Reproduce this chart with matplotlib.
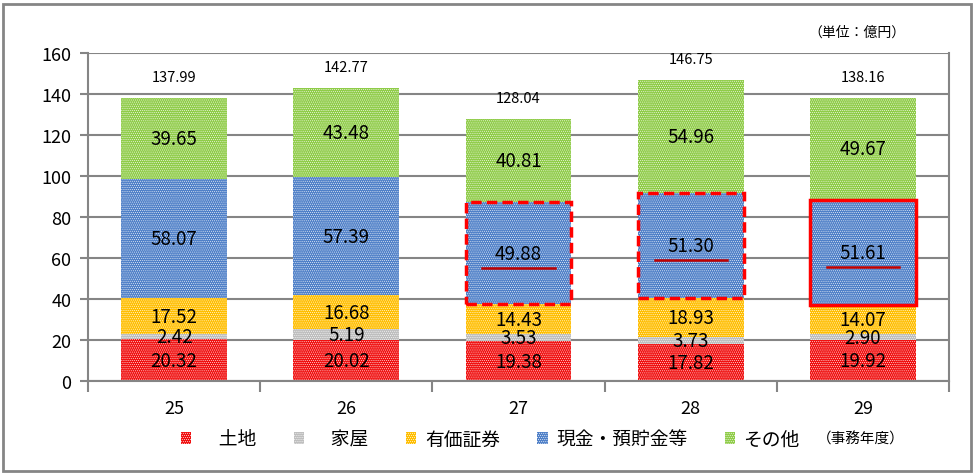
import matplotlib
matplotlib.use("Agg")
import matplotlib.pyplot as plt
from matplotlib.patches import Rectangle
import numpy as np

plt.rcParams['font.family'] = ['Noto Sans CJK JP', 'DejaVu Sans']
plt.rcParams['hatch.linewidth'] = 0.35

years = ['25', '26', '27', '28', '29']
land = [20.32, 20.02, 19.38, 17.82, 19.92]
house = [2.42, 5.19, 3.53, 3.73, 2.90]
securities = [17.52, 16.68, 14.43, 18.93, 14.07]
cash = [58.07, 57.39, 49.88, 51.30, 51.61]
other = [39.65, 43.48, 40.81, 54.96, 49.67]
totals = [137.99, 142.77, 128.04, 146.75, 138.16]
series_names = ['　土地', '　家屋', '有価証券', '現金・預貯金等', 'その他']
colors = ['#F01010', '#BEBEBE', '#FFBE00', '#4F80C8', '#8FCC48']
yticks = [0, 20, 40, 60, 80, 100, 120, 140, 160]
highlight = {2: 'dashed', 3: 'dashed', 4: 'solid'}

fig = plt.figure(figsize=(9.75, 4.77), dpi=100)
ax = fig.add_axes([88/975, 1-382/477, (949-88)/975, (382-54)/477])

x = np.arange(len(years))
w = 0.615
series = [land, house, securities, cash, other]
bottom = np.zeros(len(years))
handles = []
bottoms_all = []
for vals, col, name in zip(series, colors, series_names):
    vals = np.array(vals)
    b = ax.bar(x, vals, w, bottom=bottom, color=col, edgecolor='white',
               linewidth=0, hatch='........', label=name, zorder=2)
    handles.append(b)
    bottoms_all.append(bottom.copy())
    for xi, v, bt in zip(x, vals, bottom):
        ax.text(xi, bt + v/2, f'{v:.2f}', ha='center', va='center',
                fontsize=13.5, color='black', zorder=5)
    bottom = bottom + vals

for xi, t in zip(x, totals):
    ax.annotate(f'{t:.2f}', (xi, t), xytext=(0, 10), textcoords='offset points',
                ha='center', va='bottom', fontsize=10.5)

# highlight boxes on cash segment
cash_b = bottoms_all[3]
for i, ls in highlight.items():
    rect = Rectangle((x[i]-w/2, cash_b[i]), w, cash[i], fill=False,
                     edgecolor='#FF0000', linewidth=2.5,
                     linestyle=(0, (3, 1.5)) if ls == 'dashed' else 'solid', zorder=6)
    ax.add_patch(rect)
    yc = cash_b[i] + cash[i]/2 - 7
    ax.plot([x[i]-0.21, x[i]+0.21], [yc, yc], color='#C00000', linewidth=1.8, zorder=6)

ax.set_ylim(0, 160)
ax.set_xlim(-0.5, 4.5)
ax.set_yticks(yticks)
ax.yaxis.grid(True, color='#858585', linewidth=1.5, zorder=0)
ax.set_axisbelow(True)
for s in ax.spines.values():
    s.set_color('#858585')
    s.set_linewidth(1.5)
ax.spines['top'].set_visible(False)
ax.tick_params(axis='y', length=6, width=1.5, color='#858585', labelsize=13, pad=6)
ax.set_xticks(x)
ax.set_xticklabels(years)
ax.tick_params(axis='x', which='major', length=0, labelsize=13, pad=13)
ax.set_xticks(np.arange(-0.5, 5.0, 1.0), minor=True)
ax.tick_params(axis='x', which='minor', length=8, width=1.5, color='#858585', direction='out')

leg = fig.legend(handles=handles, labels=series_names, ncol=5,
                 loc='center', bbox_to_anchor=(0.503, 1-440/477), frameon=False,
                 fontsize=13.5, handlelength=0.55, handleheight=0.55,
                 handletextpad=0.45, columnspacing=2.0)

fig.text(905/975, 1-33/477, '（単位：億円）', ha='right', va='center', fontsize=10)
fig.text(905/975, 1-440/477, '（事務年度）', ha='right', va='center', fontsize=10.5)

border = Rectangle((3/975, 5/477), (971-3)/975, (472-5)/477, transform=fig.transFigure,
                   fill=False, edgecolor='#858585', linewidth=2)
fig.patches.append(border)

fig.savefig('out.png', dpi=100)
